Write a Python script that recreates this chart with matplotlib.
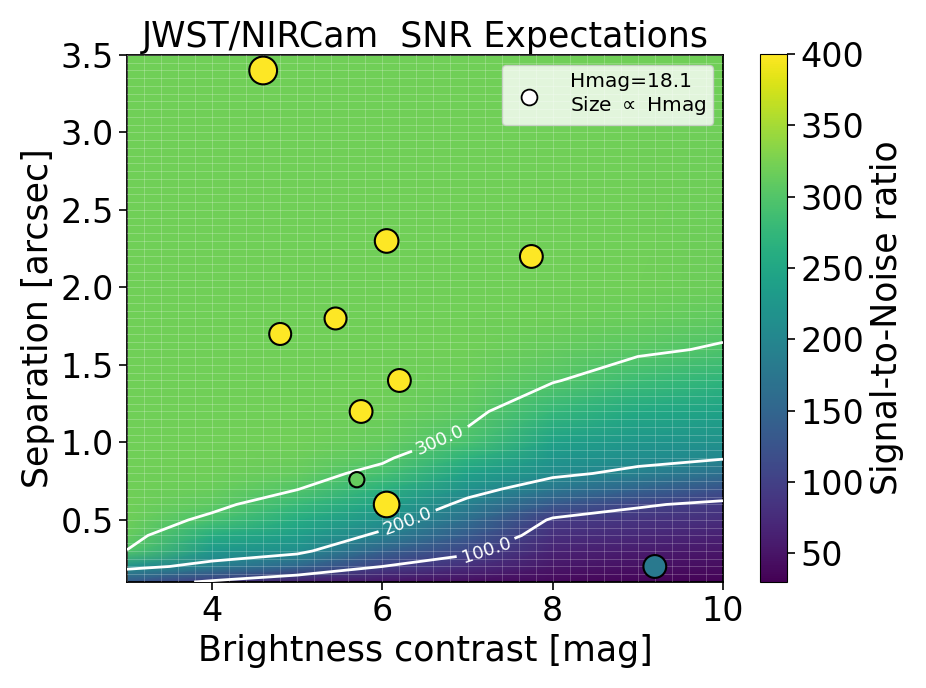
import numpy as np
import matplotlib
matplotlib.use("Agg")
import matplotlib.pyplot as plt
from matplotlib.ticker import MultipleLocator

plt.rcParams['font.family'] = ['DejaVu Sans']

# SNR grid: columns = contrast [mag], rows = separation [arcsec]
contrast = [3, 4, 5, 6, 7, 8, 9, 10]
separation = [0.1, 0.2, 0.3, 0.4, 0.5, 0.6, 0.7, 0.8, 0.9, 1.0, 1.2, 1.4, 1.6, 1.8, 2.0, 3.5]
snr_grid = [
    [130,  92,  60,  50,  42,  38,  35,  32],
    [215, 185, 150, 100,  78,  52,  46,  42],
    [299, 228, 212, 145, 108,  66,  58,  52],
    [313, 260, 236, 191, 135,  80,  72,  64],
    [318, 293, 258, 219, 162,  95,  86,  78],
    [320, 308, 280, 243, 189, 132, 104,  92],
    [320, 315, 301, 267, 215, 178, 148, 125],
    [320, 318, 312, 291, 242, 208, 191, 165],
    [320, 320, 317, 305, 268, 225, 211, 203],
    [320, 320, 320, 313, 292, 242, 225, 216],
    [320, 320, 320, 318, 308, 276, 254, 243],
    [320, 320, 320, 320, 316, 302, 283, 270],
    [320, 320, 320, 320, 320, 313, 305, 297],
    [320, 320, 320, 320, 320, 318, 315, 310],
    [320, 320, 320, 320, 320, 320, 320, 317],
    [320, 320, 320, 320, 320, 320, 320, 320],
]

# companions: contrast, separation, SNR, marker area
comp_mag = [4.6, 6.05, 7.75, 4.8, 5.45, 6.2, 5.75, 5.7, 6.05, 9.2]
comp_sep = [3.4, 2.3, 2.2, 1.7, 1.8, 1.4, 1.2, 0.76, 0.6, 0.2]
comp_snr = [450, 450, 450, 450, 450, 450, 450, 312, 450, 180]
comp_size = [400, 290, 270, 250, 250, 270, 270, 120, 340, 270]

contour_levels = [100, 200, 300]

X, Y = np.meshgrid(contrast, separation)
Z = np.array(snr_grid, dtype=float)

fig = plt.figure(figsize=(9.26, 6.88), dpi=100)
ax = fig.add_axes([0.1371, 0.1541, 0.6436, 0.7660])
cax = fig.add_axes([0.8207, 0.1541, 0.0292, 0.7674])

mesh = ax.pcolormesh(X, Y, Z, shading='gouraud', cmap='viridis', vmin=30, vmax=400, zorder=1)

# faint white cell lines
ax.xaxis.set_minor_locator(MultipleLocator(0.2))
ax.yaxis.set_minor_locator(MultipleLocator(0.05))
ax.set_axisbelow(False)
ax.grid(which='both', color='white', alpha=0.22, linewidth=0.7)
ax.tick_params(which='minor', length=0)

cs = ax.contour(X, Y, Z, levels=contour_levels, colors='white', linewidths=2, zorder=3)
ax.clabel(cs, fmt='%.1f', fontsize=13, inline=True,
          manual=[(6.8, 0.88), (6.3, 0.48), (7.3, 0.2)])

ax.scatter(comp_mag, comp_sep, c=comp_snr, s=comp_size, cmap='viridis', vmin=30, vmax=400,
           edgecolors='black', linewidths=1.5, zorder=4)

# legend entry
ax.scatter([], [], s=130, facecolors='white', edgecolors='black', linewidths=1.3,
           label='Hmag=18.1\nSize $\\propto$ Hmag')
leg = ax.legend(loc='upper right', fontsize=14.5, handletextpad=1.0, borderpad=0.35)
leg.set_zorder(5)

ax.set_xlim(3, 10)
ax.set_ylim(0.1, 3.5)
ax.set_xticks([4, 6, 8, 10])
ax.set_yticks([0.5, 1.0, 1.5, 2.0, 2.5, 3.0, 3.5])
ax.tick_params(which='major', labelsize=24, length=6, width=1.2)
for s in ax.spines.values():
    s.set_linewidth(1.3)

ax.set_xlabel('Brightness contrast [mag]', fontsize=25)
ax.set_ylabel('Separation [arcsec]', fontsize=25)
ax.set_title('JWST/NIRCam  SNR Expectations', fontsize=25)

cb = fig.colorbar(mesh, cax=cax)
cb.set_ticks([50, 100, 150, 200, 250, 300, 350, 400])
cb.ax.tick_params(labelsize=24, length=6, width=1.2)
cb.set_label('Signal-to-Noise ratio', fontsize=25)

fig.savefig('out.png', dpi=100)
